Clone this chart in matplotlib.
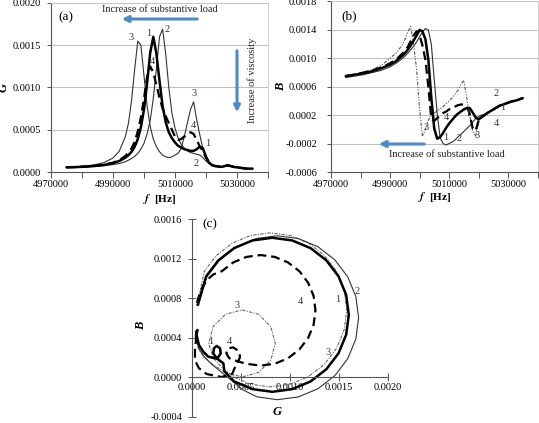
import matplotlib
matplotlib.use("Agg")
import matplotlib.pyplot as plt
from matplotlib.patches import FancyArrowPatch
from matplotlib.ticker import FixedLocator, FixedFormatter, FormatStrFormatter

plt.rcParams['font.family'] = ['Liberation Serif', 'DejaVu Serif']
plt.rcParams['mathtext.fontset'] = 'stix'

# ---------------- data ----------------
# frequency grid [Hz]
freq = [4975000, 4978000, 4981000, 4984000, 4987000, 4990000, 4992000, 4994000, 4995000,
        4996000, 4997000, 4998000, 4999000, 5000000, 5001000, 5002000, 5003000, 5004000,
        5005000, 5006000, 5007000, 5008000, 5009000, 5010000, 5011000, 5012000, 5013000,
        5014000, 5015000, 5016000, 5017000, 5018000, 5019000, 5020000, 5021000, 5022000,
        5023000, 5025000, 5027000, 5029000, 5031000, 5033000, 5035000]

# conductance G(f) for the four cases
G1 = [0.000055, 0.000058, 0.000063, 0.000071, 0.000083, 0.000105, 0.00013, 0.00017, 0.0002,
      0.00024, 0.0003, 0.00039, 0.00053, 0.00074, 0.00105, 0.00141, 0.0016, 0.0014,
      0.00108, 0.00078, 0.00059, 0.00047, 0.0004, 0.00035, 0.00031, 0.00029, 0.00027,
      0.00026, 0.00025, 0.00025, 0.00027, 0.0003, 0.00028, 0.00018, 0.00011, 0.00008,
      0.00007, 0.00006, 0.00008, 0.00006, 0.00005, 0.00004, 0.00004]
G2 = [0.000053, 0.000055, 0.00006, 0.000065, 0.000074, 0.000088, 0.0001, 0.000123, 0.00014,
      0.00016, 0.000185, 0.00022, 0.00027, 0.00034, 0.00045, 0.00061, 0.00087, 0.00122,
      0.0016, 0.00169, 0.0014, 0.001, 0.0007, 0.00052, 0.0004, 0.00033, 0.00028,
      0.00025, 0.00023, 0.00022, 0.00021, 0.0002, 0.00017, 0.00013, 0.0001, 0.00008,
      0.00007, 0.00006, 0.00007, 0.00006, 0.00005, 0.00004, 0.00004]
G3 = [0.000058, 0.000063, 0.000071, 0.000085, 0.00011, 0.000166, 0.000245, 0.00042, 0.00058,
      0.00085, 0.00122, 0.00155, 0.0015, 0.00114, 0.00078, 0.00054, 0.00039, 0.0003,
      0.00024, 0.0002, 0.00018, 0.00017, 0.00018, 0.0002, 0.00022, 0.00028, 0.00042,
      0.00058, 0.00074, 0.00083, 0.00062, 0.00044, 0.00028, 0.00017, 0.00011, 0.00008,
      0.00007, 0.00006, 0.00008, 0.00006, 0.00005, 0.00004, 0.00004]
G4 = [0.000055, 0.000059, 0.000064, 0.000073, 0.000087, 0.00011, 0.00014, 0.00019, 0.00023,
      0.00028, 0.00036, 0.00048, 0.00065, 0.00087, 0.00113, 0.00125, 0.00118, 0.00103,
      0.00088, 0.00075, 0.00066, 0.00058, 0.0005, 0.00042, 0.00038, 0.00039, 0.00042,
      0.00045, 0.00047, 0.00045, 0.00038, 0.0003, 0.00025, 0.00017, 0.00011, 0.00008,
      0.00007, 0.00006, 0.00008, 0.00006, 0.00005, 0.00004, 0.00004]

# susceptance B(f) for the four cases
B1 = [0.00075, 0.00077, 0.00079, 0.00082, 0.00086, 0.00091, 0.00096, 0.00103, 0.00107,
      0.00112, 0.00118, 0.00125, 0.00132, 0.0014, 0.00138, 0.00127, 0.00098, 0.00045,
      0.00001, -0.00013, -0.00011, -0.00005, 0.00002, 0.00008, 0.00013, 0.00018, 0.00022,
      0.00025, 0.00028, 0.0003, 0.0003, 0.00024, 0.00017, 0.00014, 0.00017, 0.0002,
      0.00023, 0.00028, 0.00033, 0.00036, 0.00039, 0.00041, 0.00044]
B2 = [0.00073, 0.00075, 0.00077, 0.0008, 0.00083, 0.00088, 0.00093, 0.00099, 0.00103,
      0.00107, 0.00112, 0.00117, 0.00123, 0.0013, 0.00137, 0.00142, 0.0014, 0.0012,
      0.0007, 0.00022, -0.00012, -0.0002, -0.00022, -0.0002, -0.00018, -0.00015, -0.00011,
      -0.00007, -0.00003, 0.00001, 0.00005, 0.0001, 0.00015, 0.00018, 0.0002, 0.00021,
      0.00023, 0.00028, 0.00033, 0.00036, 0.00039, 0.00041, 0.00044]
B3 = [0.00075, 0.00077, 0.0008, 0.00084, 0.0009, 0.001, 0.00107, 0.00118, 0.00126,
      0.00137, 0.00145, 0.0012, 0.00085, 0.0003, -0.0001, 0.0, 0.00013, 0.0002,
      0.00023, 0.00026, 0.00029, 0.00032, 0.00036, 0.0004, 0.00044, 0.00049, 0.00055,
      0.00063, 0.00069, 0.00045, 0.0002, -0.00002, -0.0001, 0.00008, 0.00017, 0.0002,
      0.00023, 0.00028, 0.00033, 0.00036, 0.00039, 0.00041, 0.00044]
B4 = [0.00075, 0.00077, 0.0008, 0.00083, 0.00087, 0.00093, 0.00098, 0.00106, 0.0011,
      0.00116, 0.00124, 0.00132, 0.00138, 0.00133, 0.00118, 0.00098, 0.0006, 0.00015,
      0.00012, 0.00016, 0.00019, 0.00023, 0.00025, 0.00028, 0.0003, 0.00032, 0.00034,
      0.00035, 0.00035, 0.00033, 0.00022, 0.00002, -0.00002, 0.00012, 0.00018, 0.0002,
      0.00023, 0.00028, 0.00033, 0.00036, 0.00039, 0.00041, 0.00044]

# admittance loci (panel c): G and B
C1_G = [0.00006, 0.000145, 0.000269, 0.00043, 0.000618, 0.00082, 0.001022, 0.00121, 0.001371,
        0.001495, 0.001573, 0.0016, 0.001573, 0.001495, 0.001371, 0.00121, 0.001022, 0.00082,
        0.000618, 0.00043, 0.00033, 0.00032, 0.000252, 0.000217, 0.000224, 0.000252, 0.000286,
        0.000293, 0.000268, 0.000235, 0.000166, 0.000115, 0.000071, 0.000051, 0.000041,
        0.000056, 0.000046]
C1_B = [0.00073, 0.00102, 0.001181, 0.001305, 0.001383, 0.00141, 0.001383, 0.001305, 0.001181,
        0.00102, 0.000832, 0.00063, 0.000428, 0.00024, 0.000079, -0.000045, -0.000123, -0.00015,
        -0.000123, -0.000045, 0.00006, 0.000139, 0.000189, 0.00024, 0.000291, 0.000314, 0.000291,
        0.00024, 0.0002, 0.000189, 0.000206, 0.000256, 0.000324, 0.000405, 0.000456,
        0.000476, 0.000435]
C2_G = [0.00005, 0.000151, 0.000283, 0.000455, 0.000655, 0.00087, 0.001085, 0.001285, 0.001457,
        0.001589, 0.001672, 0.0017, 0.001672, 0.001589, 0.001457, 0.001285, 0.001085, 0.00087,
        0.00066, 0.00052, 0.00041, 0.0003, 0.0002, 0.00013, 0.00008, 0.00005, 0.00004]
C2_B = [0.00073, 0.001015, 0.001187, 0.001319, 0.001402, 0.00143, 0.001402, 0.001319, 0.001187,
        0.001015, 0.000815, 0.0006, 0.000385, 0.000185, 0.000013, -0.000119, -0.000202, -0.00023,
        -0.0002, -0.00013, -0.00004, 0.00005, 0.00013, 0.0002, 0.00027, 0.00035, 0.00044]
C3_G = [0.00006, 0.000125, 0.000249, 0.00041, 0.000598, 0.0008, 0.001002, 0.00119, 0.001351,
        0.001475, 0.001553, 0.00158, 0.001553, 0.001475, 0.001351, 0.00119, 0.001002, 0.0008,
        0.000598, 0.00045, 0.00032, 0.00022, 0.00017, 0.000216, 0.00034, 0.00051, 0.00068,
        0.000804, 0.00085, 0.000804, 0.00068, 0.00051, 0.00034, 0.00022, 0.00012, 0.00006,
        0.00004]
C3_B = [0.00075, 0.00107, 0.001231, 0.001355, 0.001433, 0.00146, 0.001433, 0.001355, 0.001231,
        0.00107, 0.000882, 0.00068, 0.000478, 0.00029, 0.000129, 0.000005, -0.000073, -0.0001,
        -0.000073, -0.00001, 0.00008, 0.00019, 0.00034, 0.00051, 0.000634, 0.00068, 0.000634,
        0.00051, 0.00034, 0.00017, 0.000046, 0.0, 0.000046, 0.00012, 0.0002, 0.0003,
        0.00044]
C4_G = [0.00005, 0.00009, 0.00015, 0.00022, 0.000304, 0.00042, 0.000555, 0.0007, 0.000845,
        0.00098, 0.001096, 0.001185, 0.001241, 0.00126, 0.001241, 0.001185, 0.001096, 0.00098,
        0.000845, 0.0007, 0.000555, 0.00046, 0.00038, 0.00035, 0.00037, 0.00042, 0.00048,
        0.00049, 0.00046, 0.00043, 0.00041, 0.0003, 0.00015, 0.00007, 0.00003, 0.00003,
        0.00004, 0.00004]
C4_B = [0.00075, 0.00088, 0.00098, 0.00104, 0.001071, 0.00116, 0.001216, 0.001235, 0.001216,
        0.00116, 0.001071, 0.000955, 0.00082, 0.000675, 0.00053, 0.000395, 0.000279, 0.00019,
        0.000134, 0.000115, 0.000134, 0.00016, 0.00019, 0.00024, 0.00029, 0.0003, 0.00026,
        0.0002, 0.00014, 0.00008, 0.00003, 0.0, 0.00003, 0.00009, 0.00017, 0.00027,
        0.00037, 0.00044]

f_ticks = [4970000, 4980000, 4990000, 5000000, 5010000, 5020000, 5030000, 5040000]
f_ticklabels = ['4970000', '', '4990000', '', '5010000', '', '5030000', '']
G_ticks = [0.0, 0.0005, 0.0010, 0.0015, 0.0020]
B_ticks = [-0.0006, -0.0002, 0.0002, 0.0006, 0.0010, 0.0014, 0.0018]
Gc_ticks = [0.0, 0.0005, 0.0010, 0.0015, 0.0020]
Bc_ticks = [-0.0004, 0.0, 0.0004, 0.0008, 0.0012, 0.0016]

# ---------------- figure ----------------
W, H = 539, 423
fig = plt.figure(figsize=(W / 100, H / 100), dpi=100)


def box(x0, y0, x1, y1):
    return [x0 / W, 1 - y1 / H, (x1 - x0) / W, (y1 - y0) / H]


def fp(x, y):
    return (x, H - y)


FS = 7.5
thick = dict(color='black', lw=1.8, solid_capstyle='round')
thin = dict(color='#333333', lw=0.8)
dash4 = dict(color='black', lw=1.6, dashes=(4, 2.2))
dd3 = dict(color='#555555', lw=0.8, dashes=(3, 1.4, 1, 1.4, 1, 1.4))
blue = '#4a8cc9'
lab_col = '#333333'


def style_rect_axes(ax):
    ax.grid(axis='y', color='#c0c0c0', lw=0.8)
    ax.set_axisbelow(True)
    for s in ['left', 'bottom']:
        ax.spines[s].set_color('#555555')
        ax.spines[s].set_linewidth(0.8)
    for s in ['top', 'right']:
        ax.spines[s].set_color('#c8c8c8')
        ax.spines[s].set_linewidth(0.6)
    ax.tick_params(axis='x', direction='out', length=4, width=0.7, color='#555555',
                   labelsize=FS, pad=2)
    ax.tick_params(axis='y', direction='out', length=3, width=0.7, color='#555555',
                   labelsize=FS, pad=4)
    ax.xaxis.set_major_locator(FixedLocator(f_ticks))
    ax.xaxis.set_major_formatter(FixedFormatter(f_ticklabels))
    ax.set_xlim(4970000, 5040000)


def arrow(p0, p1):
    fig.add_artist(FancyArrowPatch(fp(*p0), fp(*p1), transform=None, arrowstyle='-|>',
                                   mutation_scale=9, color=blue, lw=2.2))


# ---- panel (a) ----
axa = fig.add_axes(box(51, 3, 268, 172))
axa.plot(freq, G3, **thin)
axa.plot(freq, G2, **thin)
axa.plot(freq, G4, **dash4)
axa.plot(freq, G1, **thick)
axa.set_ylim(0, 0.0020)
axa.set_yticks(G_ticks)
axa.yaxis.set_major_formatter(FormatStrFormatter('%.4f'))
style_rect_axes(axa)

for t, (x, y) in [('3', (131, 37)), ('1', (149, 33)), ('2', (167, 29)), ('4', (152, 62)),
                  ('3', (194, 94)), ('4', (193, 125)), ('1', (208, 143)), ('2', (196, 164))]:
    fig.text(x / W, 1 - y / H, t, fontsize=FS, color=lab_col, ha='center', va='center')

fig.text(66 / W, 1 - 17 / H, '(a)', fontsize=9.5, ha='center', va='center')
fig.text(160 / W, 1 - 10 / H, 'Increase of substantive load', fontsize=FS, ha='center',
         va='center', color='#222222')
arrow((200, 19), (119, 19))
fig.text(252 / W, 1 - 80 / H, 'Increase of viscosity', fontsize=FS, rotation=90,
         ha='center', va='center', color='#222222')
arrow((237, 48), (237, 115))
fig.text(4 / W, 1 - 88 / H, 'G', fontsize=9, fontweight='bold', style='italic',
         rotation=90, ha='center', va='center')
fig.text(160 / W, 1 - 199 / H, r'$\boldsymbol{f}$  [Hz]', fontsize=8, fontweight='bold',
         ha='center', va='center')

# ---- panel (b) ----
axb = fig.add_axes(box(331, 1.5, 537.5, 172))
axb.plot(freq, B3, **dd3)
axb.plot(freq, B2, **thin)
axb.plot(freq, B4, **dash4)
axb.plot(freq, B1, **thick)
axb.set_ylim(-0.0006, 0.0018)
axb.set_yticks(B_ticks)
axb.yaxis.set_major_formatter(FormatStrFormatter('%.4f'))
style_rect_axes(axb)
axb.tick_params(axis='y', pad=7)

for t, (x, y) in [('3', (426, 128)), ('1', (446, 137)), ('2', (459, 138)), ('3', (477, 136)),
                  ('4', (446, 117)), ('1', (468, 114)), ('2', (496, 93)), ('1', (503, 108)),
                  ('4', (496, 123))]:
    fig.text(x / W, 1 - y / H, t, fontsize=FS, color=lab_col, ha='center', va='center')

fig.text(349 / W, 1 - 16 / H, '(b)', fontsize=9.5, ha='center', va='center')
fig.text(447 / W, 1 - 154 / H, 'Increase of substantive load', fontsize=FS, ha='center',
         va='center', color='#222222')
arrow((427, 144), (376, 144))
fig.text(281 / W, 1 - 87 / H, 'B', fontsize=9, fontweight='bold', style='italic',
         rotation=90, ha='center', va='center')
fig.text(435 / W, 1 - 197 / H, r'$\boldsymbol{f}$  [Hz]', fontsize=8, fontweight='bold',
         ha='center', va='center')

# ---- panel (c) ----
axc = fig.add_axes(box(192, 219, 388, 416.5))
axc.plot(C3_G, C3_B, color='#666666', lw=0.8, dashes=(1, 1.2, 3, 1.2))
axc.plot(C2_G, C2_B, **thin)
axc.plot(C4_G, C4_B, **dash4)
axc.plot(C1_G, C1_B, **thick)
axc.set_xlim(0, 0.0020)
axc.set_ylim(-0.0004, 0.0016)
axc.spines['top'].set_visible(False)
axc.spines['right'].set_visible(False)
axc.spines['bottom'].set_position(('data', 0))
for s in ['left', 'bottom']:
    axc.spines[s].set_color('#555555')
    axc.spines[s].set_linewidth(0.8)
axc.set_xticks(Gc_ticks)
axc.set_yticks(Bc_ticks)
axc.xaxis.set_major_formatter(FormatStrFormatter('%.4f'))
axc.yaxis.set_major_formatter(FormatStrFormatter('%.4f'))
axc.tick_params(axis='both', direction='inout', length=6, width=0.7, color='#555555',
                labelsize=FS)
axc.tick_params(axis='x', pad=1)
axc.tick_params(axis='y', pad=4)
axc.patch.set_alpha(0)

for t, (x, y) in [('1', (338, 299)), ('2', (357, 292)), ('4', (300, 301)), ('3', (237, 305)),
                  ('3', (328, 352)), ('4', (229, 342)), ('1', (211, 342))]:
    fig.text(x / W, 1 - y / H, t, fontsize=FS, color=lab_col, ha='center', va='center')

fig.text(210 / W, 1 - 224 / H, '(c)', fontsize=9.5, ha='center', va='center')
fig.text(141 / W, 1 - 326 / H, 'B', fontsize=9, fontweight='bold', style='italic',
         rotation=90, ha='center', va='center')
fig.text(277 / W, 1 - 412 / H, 'G', fontsize=9, fontweight='bold', style='italic',
         ha='center', va='center')

fig.savefig('out.png', dpi=100)
